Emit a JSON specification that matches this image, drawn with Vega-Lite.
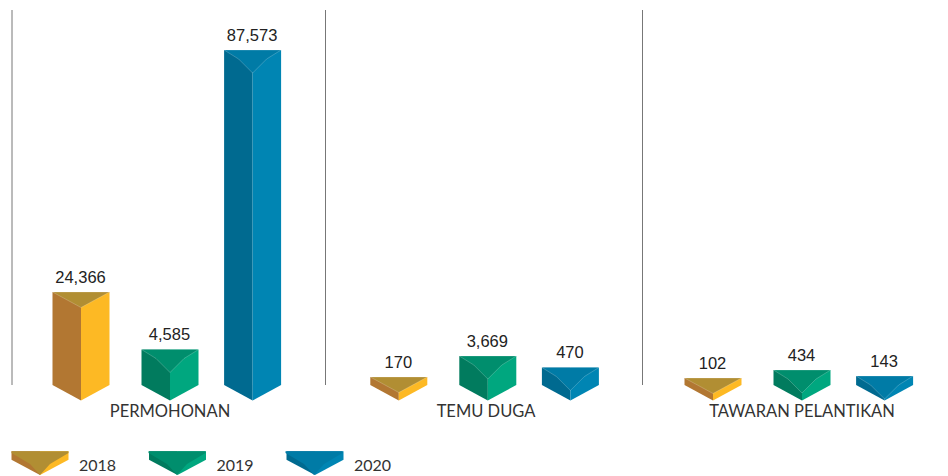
{
"$schema":"https://vega.github.io/schema/vega-lite/v6.json",
"width":948,"height":400,"padding":{"left":0,"top":0,"right":0,"bottom":76},"autosize":"none",
"background":"white",
"config":{"view":{"stroke":null}},
"layer":[
{"data":{"values":[{"category":"PERMOHONAN"},{"category":"TEMU DUGA"},{"category":"TAWARAN PELANTIKAN"}]},
 "mark":{"type":"rule","color":"#777","strokeWidth":1,"xOffset":{"expr":"datum.category=='TEMU DUGA'?-2.5:datum.category=='TAWARAN PELANTIKAN'?-1.5:0"}},
 "encoding":{
  "x":{"field":"category","type":"nominal","bandPosition":0,"sort":null,"scale":{"type":"band","domain":["PERMOHONAN","TEMU DUGA","TAWARAN PELANTIKAN"],"range":[12,960],"paddingInner":0,"paddingOuter":0},
   "axis":{"title":null,"domain":false,"ticks":false,"labelFont":"Lato","labelFontSize":16.5,"labelColor":"#333","labelAngle":0,"labelPadding":11,"labelBaseline":"middle","labelLimit":300,"bandPosition":0.5,
    "encoding":{"labels":{"update":{"dx":{"signal":"datum.value=='PERMOHONAN'?-2:datum.value=='TEMU DUGA'?2.5:2"}}}}}},
  "y":{"datum":98000,"scale":{"type":"linear","domain":[0,102,143,170,434,470,3669,4585,24366,87573,98000],"range":[385,378,376,377,370,367.5,356,349.5,292,50,10],"nice":false,"zero":false},"axis":null},
  "y2":{"datum":0}
 }},
{"data":{"values":[
 {"category":"PERMOHONAN","year":"2018","value":24366},
 {"category":"PERMOHONAN","year":"2019","value":4585},
 {"category":"PERMOHONAN","year":"2020","value":87573},
 {"category":"TEMU DUGA","year":"2018","value":170},
 {"category":"TEMU DUGA","year":"2019","value":3669},
 {"category":"TEMU DUGA","year":"2020","value":470},
 {"category":"TAWARAN PELANTIKAN","year":"2018","value":102},
 {"category":"TAWARAN PELANTIKAN","year":"2019","value":434},
 {"category":"TAWARAN PELANTIKAN","year":"2020","value":143}
 ]},
 "encoding":{
  "x":{"field":"category","type":"nominal","sort":null},
  "y":{"field":"value","type":"quantitative","stack":null}
 },
 "layer":[
  {"mark":{"type":"bar","width":28.5,"xOffset":{"expr":"(datum.year=='2018'?-89:datum.year=='2019'?0:82.6)+(datum.category=='TEMU DUGA'?1.8:0)-14.25"}},
   "encoding":{"color":{"field":"year","type":"nominal","scale":{"domain":["2018","2019","2020"],"range":["#B27732","#017B5E","#006A90"]},
    "legend":{"orient":"none","legendX":35,"legendY":460,"padding":0,"direction":"horizontal","title":null,"symbolType":"M-28.5,-13.7L-28.5,-5.3L0,10L0,-13.7Z","symbolSize":4,"labelExpr":"''","labelOffset":0,"columnPadding":103.5,"symbolStrokeWidth":0}}}},
  {"mark":{"type":"bar","width":28.5,"xOffset":{"expr":"(datum.year=='2018'?-89:datum.year=='2019'?0:82.6)+(datum.category=='TEMU DUGA'?1.8:0)+14.25"}},
   "encoding":{"color":{"field":"year","type":"nominal","scale":{"domain":["2018","2019","2020"],"range":["#FDB924","#00A77F","#0085B3"]},
    "legend":{"orient":"none","legendX":35,"legendY":460,"padding":0,"direction":"horizontal","title":null,"symbolType":"M28.5,-13.7L28.5,-5.3L0,10L0,-13.7Z","symbolSize":4,"labelExpr":"''","labelOffset":0,"columnPadding":103.5,"symbolStrokeWidth":0}}}},
  {"mark":{"type":"point","filled":true,"size":4,"opacity":1,"shape":"M-28.5,0L0,0L0,15.5L-28.5,0Z","xOffset":{"expr":"(datum.year=='2018'?-89:datum.year=='2019'?0:82.6)+(datum.category=='TEMU DUGA'?1.8:0)"}},
   "encoding":{"y":{"datum":0},"color":{"field":"year","type":"nominal","scale":{"domain":["2018","2019","2020"],"range":["#B27732","#017B5E","#006A90"]},"legend":null}}},
  {"mark":{"type":"point","filled":true,"size":4,"opacity":1,"shape":"M28.5,0L0,0L0,15.5L28.5,0Z","xOffset":{"expr":"(datum.year=='2018'?-89:datum.year=='2019'?0:82.6)+(datum.category=='TEMU DUGA'?1.8:0)"}},
   "encoding":{"y":{"datum":0},"color":{"field":"year","type":"nominal","scale":{"domain":["2018","2019","2020"],"range":["#FDB924","#00A77F","#0085B3"]},"legend":null}}},
  {"transform":[{"filter":"datum.year!='2018'"}],
   "mark":{"type":"point","filled":true,"size":4,"opacity":1,"stroke":"#fff","strokeOpacity":0.35,"strokeWidth":0.6,"shape":"M-28.5,0L28.5,0L14,9L0,23L-14,9Z","xOffset":{"expr":"(datum.year=='2018'?-89:datum.year=='2019'?0:82.6)+(datum.category=='TEMU DUGA'?1.8:0)"}},
   "encoding":{
    "color":{"field":"year","type":"nominal","scale":{"domain":["2018","2019","2020"],"range":["#B18E33","#008E6D","#007BA6"]},
    "legend":{"orient":"none","legendX":35,"legendY":460,"padding":0,"direction":"horizontal","title":null,"symbolType":"M-28.5,-13.7L28.5,-13.7L28.5,-12L10,-1L0,10L-10,-1L-28.5,-12Z","symbolSize":4,"labelExpr":"''","labelOffset":0,"columnPadding":79,"symbolStrokeWidth":0}}}},
  {"transform":[{"filter":"datum.year=='2018'"}],
   "mark":{"type":"point","filled":true,"size":4,"opacity":1,"stroke":"#fff","strokeOpacity":0.35,"strokeWidth":0.6,"shape":"M-28.5,0L28.5,0L0,15.5Z","xOffset":{"expr":"(datum.year=='2018'?-89:datum.year=='2019'?0:82.6)+(datum.category=='TEMU DUGA'?1.8:0)"}},
   "encoding":{
    "color":{"field":"year","type":"nominal","scale":{"domain":["2018","2019","2020"],"range":["#B18E33","#008E6D","#007BA6"]},"legend":null}}},
  {"mark":{"type":"text","font":"Liberation Sans","fontSize":16.5,"baseline":"alphabetic","dy":-9.5,"dx":-0.5,"xOffset":{"expr":"(datum.year=='2018'?-89:datum.year=='2019'?0:82.6)+(datum.category=='TEMU DUGA'?1.8:0)"}},
   "encoding":{"text":{"field":"value","type":"quantitative","format":","},
    "color":{"field":"year","type":"nominal","scale":{"domain":["2018","2019","2020"],"range":["#222222","#222222","#222222"]},
    "legend":{"orient":"none","legendX":34.5,"legendY":458,"padding":0,"direction":"horizontal","title":null,"symbolOpacity":0,"symbolSize":4,"labelFont":"Lato","labelFontSize":16,"labelColor":"#333","labelOffset":28.5,"columnPadding":55.5}}}}
 ],
 "resolve":{"scale":{"color":"independent"}}
}
],
"resolve":{"scale":{"color":"independent"}}
}
